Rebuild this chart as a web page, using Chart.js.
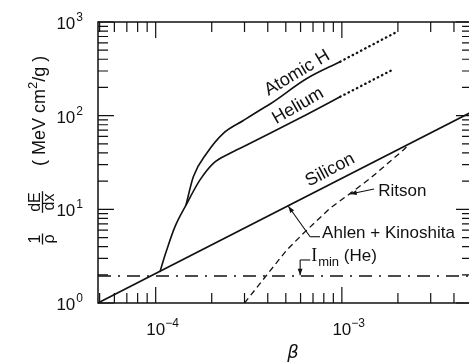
<!DOCTYPE html>
<html>
<head>
<meta charset="utf-8">
<script src="https://cdn.jsdelivr.net/npm/chart.js@4.4.1/dist/chart.umd.min.js"></script>
<style>
  html, body { margin: 0; padding: 0; background: #fff; overflow: hidden; }
  canvas { display: block; }
</style>
</head>
<body>
<canvas id="grafico" width="472" height="364"></canvas>
<script>
// values: beta vs (1/rho) dE/dx in MeV cm2/g
// helium curve (the low-beta part is shared with atomic H)
const heBeta = [1.054e-4, 1.081e-4, 1.146e-4, 1.27e-4, 1.455e-4, 1.73e-4, 2.04e-4, 2.508e-4, 3.084e-4, 4.116e-4, 6.482e-4, 9.79e-4];
const heVal = [2.14, 2.55, 3.68, 6.53, 11.1, 20.6, 31.0, 39.7, 48.6, 64.8, 103, 159];
const heDotBeta = [9.79e-4, 1.894e-3];
const heDotVal = [159, 313];

// atomic H branch, from where it leaves the helium curve
const hBeta = [1.455e-4, 1.593e-4, 1.88e-4, 2.309e-4, 2.958e-4, 3.638e-4, 4.116e-4, 6.482e-4, 9.79e-4];
const hVal = [11.1, 22.3, 39.7, 64.8, 88.8, 115, 133.2, 249, 377];
const hDotBeta = [9.79e-4, 1.98e-3];
const hDotVal = [377, 788];

const siBeta = [4.9e-5, 5e-3];
const siVal = [1.0, 110];

const ritsonBeta = [3.0e-4, 3.95e-4, 5.06e-4, 6.22e-4, 8.65e-4, 1.11e-3, 1.42e-3, 2.14e-3, 2.23e-3];
const ritsonVal = [1.0, 1.99, 3.68, 5.55, 10.3, 14.8, 21.4, 43, 46.6];

const iminBeta = [4.9e-5, 5e-3];
const iminVal = [1.94, 1.94];

const xDecades = [-4, -3];
const yDecades = [0, 1, 2, 3];

const SANS = '"Liberation Sans", Arial, sans-serif';

function puntos(bs, vs) {
  return bs.map((b, i) => ({ x: b, y: vs[i] }));
}

function serie(bs, vs, extra) {
  return Object.assign({
    data: puntos(bs, vs),
    borderColor: '#111',
    borderWidth: 1.6,
    pointRadius: 0,
    fill: false,
    tension: 0
  }, extra || {});
}

function flecha(ctx, x1, y1, x2, y2) {
  ctx.beginPath();
  ctx.moveTo(x1, y1);
  ctx.lineTo(x2, y2);
  ctx.stroke();
  const a = Math.atan2(y2 - y1, x2 - x1);
  const L = 7, w = 0.35;
  ctx.beginPath();
  ctx.moveTo(x2, y2);
  ctx.lineTo(x2 - L * Math.cos(a - w), y2 - L * Math.sin(a - w));
  ctx.lineTo(x2 - L * Math.cos(a + w), y2 - L * Math.sin(a + w));
  ctx.closePath();
  ctx.fill();
}

const marco = {
  id: 'marco',
  afterDatasetsDraw(chart) {
    const ctx = chart.ctx;
    const xs = chart.scales.x, ys = chart.scales.y;
    const a = chart.chartArea;
    const P = (b, v) => [xs.getPixelForValue(b), ys.getPixelForValue(v)];

    ctx.save();
    ctx.strokeStyle = '#111';
    ctx.fillStyle = '#111';

    // frame
    ctx.lineWidth = 1.5;
    ctx.strokeRect(a.left, a.top, a.right - a.left, a.bottom - a.top);

    // inward ticks
    ctx.lineWidth = 1.2;
    ctx.beginPath();
    for (let k = -5; k <= -2; k++) {
      for (let m = 1; m <= 9; m++) {
        const v = m * Math.pow(10, k);
        if (v < xs.min * 1.02 || v > xs.max) continue;
        const px = xs.getPixelForValue(v);
        const len = m === 1 ? 16 : 10;
        ctx.moveTo(px, a.bottom); ctx.lineTo(px, a.bottom - len);
        ctx.moveTo(px, a.top); ctx.lineTo(px, a.top + len);
      }
    }
    for (let k = 0; k <= 3; k++) {
      for (let m = 1; m <= 9; m++) {
        const v = m * Math.pow(10, k);
        if (v < ys.min || v > ys.max) continue;
        const py = ys.getPixelForValue(v);
        const len = m === 1 ? 16 : 10;
        ctx.moveTo(a.left, py); ctx.lineTo(a.left + len, py);
        ctx.moveTo(a.right, py); ctx.lineTo(a.right - len, py);
      }
    }
    ctx.stroke();

    // tick labels
    ctx.textBaseline = 'alphabetic';
    xDecades.forEach(k => {
      const px = xs.getPixelForValue(Math.pow(10, k));
      ctx.font = '17px ' + SANS;
      ctx.textAlign = 'center';
      ctx.fillText('10', px, 335);
      const w = ctx.measureText('10').width;
      ctx.font = '12px ' + SANS;
      ctx.textAlign = 'left';
      ctx.fillText('\u2212' + Math.abs(k), px + w / 2, 327);
    });
    yDecades.forEach(k => {
      const py = ys.getPixelForValue(Math.pow(10, k));
      ctx.font = '12px ' + SANS;
      const we = ctx.measureText(String(k)).width;
      ctx.textAlign = 'right';
      ctx.fillText(String(k), 83, py - 1);
      ctx.font = '17px ' + SANS;
      ctx.fillText('10', 83 - we - 1, py + 7);
    });

    // x title
    ctx.font = 'italic 18px "DejaVu Sans", sans-serif';
    ctx.textAlign = 'center';
    ctx.textBaseline = 'middle';
    ctx.fillText('\u03B2', 293, 353);

    // y title, rotated
    ctx.save();
    ctx.translate(42, 166);
    ctx.rotate(-Math.PI / 2);
    ctx.textBaseline = 'alphabetic';
    ctx.textAlign = 'left';
    let u = 0;
    const parte = (t, f, dv) => { ctx.font = f; ctx.fillText(t, u, dv); u += ctx.measureText(t).width; };
    parte('( MeV cm', '18px ' + SANS, 3);
    parte('2', '13px ' + SANS, -5);
    parte('/g )', '18px ' + SANS, 3);
    // fractions
    const fraccion = (num, den, uc) => {
      ctx.font = '16px ' + SANS;
      ctx.textAlign = 'center';
      const w = Math.max(ctx.measureText(num).width, ctx.measureText(den).width);
      ctx.fillText(num, uc, -2.5);
      ctx.fillText(den, uc, 12);
      ctx.lineWidth = 1.3;
      ctx.beginPath();
      ctx.moveTo(uc - w / 2 - 1, 0.5);
      ctx.lineTo(uc + w / 2 + 1, 0.5);
      ctx.stroke();
    };
    fraccion('dE', 'dx', -36);
    fraccion('1', '\u03C1', -73);
    ctx.restore();

    // curve labels
    const rotulo = (t, b, v, ang) => {
      const p = P(b, v);
      ctx.save();
      ctx.translate(p[0], p[1]);
      ctx.rotate(ang * Math.PI / 180);
      ctx.font = '18px ' + SANS;
      ctx.textAlign = 'center';
      ctx.textBaseline = 'middle';
      ctx.fillText(t, 0, 0);
      ctx.restore();
    };
    rotulo('Atomic H', 5.75e-4, 285, -31);
    rotulo('Helium', 5.82e-4, 127, -30);
    rotulo('Silicon', 8.65e-4, 26.3, -28);

    ctx.font = '17px ' + SANS;
    ctx.textAlign = 'left';
    ctx.textBaseline = 'middle';
    let p = P(1.567e-3, 15.7);
    ctx.fillText('Ritson', p[0], p[1]);
    p = P(7.83e-4, 5.59);
    ctx.fillText('Ahlen + Kinoshita', p[0], p[1]);

    p = P(6.84e-4, 3.18);
    ctx.font = '18px "Liberation Serif", serif';
    ctx.fillText('I', p[0], p[1]);
    const wI = ctx.measureText('I').width;
    ctx.font = '13px ' + SANS;
    ctx.fillText('min', p[0] + wI + 1, p[1] + 6);
    const wm = ctx.measureText('min').width;
    ctx.font = '17px ' + SANS;
    ctx.fillText(' (He)', p[0] + wI + 1 + wm, p[1]);

    // pointers
    ctx.lineWidth = 1.1;
    let q1 = P(1.49e-3, 16.5), q2 = P(1.108e-3, 14.6);
    flecha(ctx, q1[0], q1[1], q2[0], q2[1]);

    q1 = P(7.63e-4, 5.1); q2 = P(6.75e-4, 5.1);
    ctx.beginPath(); ctx.moveTo(q1[0], q1[1]); ctx.lineTo(q2[0], q2[1]); ctx.stroke();
    let q3 = P(5.16e-4, 10.8);
    flecha(ctx, q2[0], q2[1], q3[0], q3[1]);

    q1 = P(6.76e-4, 2.88); q2 = P(5.97e-4, 2.88);
    ctx.beginPath(); ctx.moveTo(q1[0], q1[1]); ctx.lineTo(q2[0], q2[1]); ctx.stroke();
    q3 = P(5.97e-4, 1.98);
    flecha(ctx, q2[0], q2[1], q3[0], q3[1]);

    ctx.restore();
  }
};

const grafico = new Chart(document.getElementById('grafico'), {
  type: 'line',
  data: {
    datasets: [
      serie(heBeta, heVal, { cubicInterpolationMode: 'monotone' }),
      serie(hBeta, hVal, { cubicInterpolationMode: 'monotone' }),
      serie(hDotBeta, hDotVal, { borderDash: [0.5, 4.2], borderCapStyle: 'round', borderWidth: 2.3 }),
      serie(heDotBeta, heDotVal, { borderDash: [0.5, 4.2], borderCapStyle: 'round', borderWidth: 2.3 }),
      serie(siBeta, siVal),
      serie(ritsonBeta, ritsonVal, { borderDash: [6, 4], borderWidth: 1.3 }),
      serie(iminBeta, iminVal, { borderDash: [13, 7, 2, 7], borderWidth: 1.5 })
    ]
  },
  options: {
    responsive: false,
    animation: false,
    layout: { padding: { left: 98, top: 22, right: 0, bottom: 61 } },
    plugins: { legend: { display: false }, tooltip: { enabled: false } },
    scales: {
      x: { type: 'logarithmic', min: 4.9e-5, max: 5e-3, display: false },
      y: { type: 'logarithmic', min: 1, max: 1000, display: false }
    }
  },
  plugins: [marco]
});
</script>
</body>
</html>
